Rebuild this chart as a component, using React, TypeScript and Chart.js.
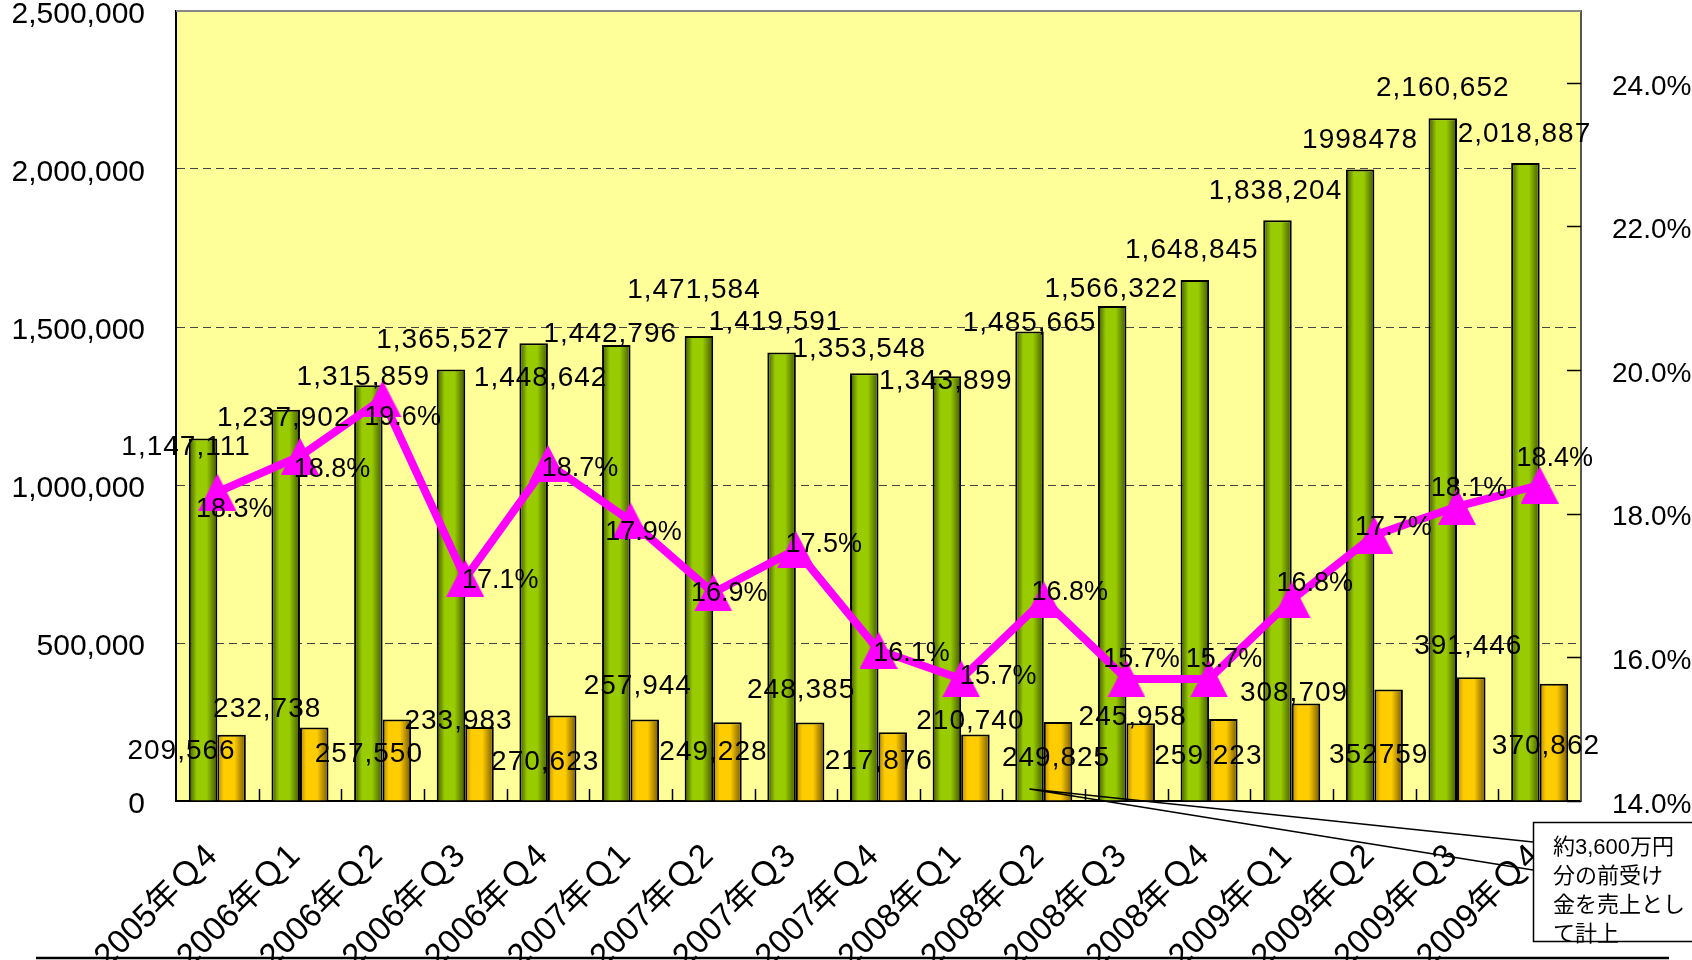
import React, { useEffect, useRef } from 'react';
import { Chart, registerables } from 'chart.js';

Chart.register(...registerables);

const FONT = '"Liberation Sans", "Noto Sans CJK JP", Arial, sans-serif';

// ---- data ----
const categories = [
  '2005年Ｑ4', '2006年Ｑ1', '2006年Ｑ2', '2006年Ｑ3', '2006年Ｑ4',
  '2007年Ｑ1', '2007年Ｑ2', '2007年Ｑ3', '2007年Ｑ4',
  '2008年Ｑ1', '2008年Ｑ2', '2008年Ｑ3', '2008年Ｑ4',
  '2009年Ｑ1', '2009年Ｑ2', '2009年Ｑ3', '2009年Ｑ4',
];
const sales = [
  1147111, 1237902, 1315859, 1365527, 1448642, 1442796, 1471584, 1419591, 1353548,
  1343899, 1485665, 1566322, 1648845, 1838204, 1998478, 2160652, 2018887,
];
const profit = [
  209566, 232738, 257550, 233983, 270623, 257944, 249228, 248385, 217876,
  210740, 249825, 245958, 259223, 308709, 352759, 391446, 370862,
];
const margin = [
  18.3, 18.8, 19.6, 17.1, 18.7, 17.9, 16.9, 17.5, 16.1,
  15.7, 16.8, 15.7, 15.7, 16.8, 17.7, 18.1, 18.4,
];
const leftTicks = [0, 500000, 1000000, 1500000, 2000000, 2500000];
const rightTicks = [14, 16, 18, 20, 22, 24];
const noteLines = ['約3,600万円', '分の前受け', '金を売上とし', 'て計上'];
// indices whose labels were printed without thousands separators in the original
const salesPlain = [14];
const profitPlain = [14];

// ---- label nudges (layout only, px offsets of label centre from its mark) ----
const salesNudge = [[-17, 9], [-2, 8], [-5, -8], [-8, -29], [7, 35], [-6, -11], [-5, -46], [-6, -30], [-5, -24], [-1, 5], [0, -8], [-1, -17], [-3, -30], [-2, -29], [0, -29], [0, -30], [-1, -29]];
const profitNudge = [[-50, 17], [-47, -18], [-28, 35], [-21, -6], [-17, 47], [-7, -33], [-14, 30], [-9, -32], [-14, 29], [-5, -13], [-2, 36], [-8, -6], [-15, 37], [-12, -10], [-10, 66], [-3, -31], [-8, 62]];
const marginNudge = [[17, 17], [32, 13], [20, 19], [35, 2], [32, 5], [13, 12], [16, 1], [28, -5], [33, 3], [37, -2], [26, -7], [15, -19], [15, -19], [23, -16], [19, -8], [12, -18], [15, -26]];

const CAT_PCT = 0.69;
const PLOT_TOP = 11;

const fmt = (v: number, plain: boolean) => (plain ? String(v) : v.toLocaleString('en-US'));

function barGradient(stops: [number, string][], dsIndex: number) {
  return (c: any) => {
    const chart = c.chart;
    const xs = chart.scales && chart.scales.x;
    if (!xs || c.dataIndex === undefined || !chart.chartArea) return stops[1][1];
    const center = xs.getPixelForValue(c.dataIndex);
    const w = xs.width / categories.length;
    const half = (w * CAT_PCT) / 2;
    const left = dsIndex === 0 ? center - half : center;
    const g = chart.ctx.createLinearGradient(left, 0, left + half, 0);
    stops.forEach(([o, col]) => g.addColorStop(o, col));
    return g;
  };
}

function makeTriangle(): HTMLCanvasElement {
  const c = document.createElement('canvas');
  c.width = 38;
  c.height = 37;
  const g = c.getContext('2d')!;
  g.fillStyle = '#FF00FF';
  g.beginPath();
  g.moveTo(19, 0);
  g.lineTo(38, 37);
  g.lineTo(0, 37);
  g.closePath();
  g.fill();
  return c;
}

const backgroundPlugin = {
  id: 'plotBg',
  beforeDraw(chart: any) {
    const { ctx, chartArea: a } = chart;
    ctx.save();
    ctx.fillStyle = '#FFFF99';
    ctx.fillRect(a.left, a.top, a.right - a.left, a.bottom - a.top);
    ctx.restore();
  },
  beforeDatasetsDraw(chart: any) {
    const { ctx, chartArea: a } = chart;
    ctx.save();
    ctx.strokeStyle = '#888';
    ctx.lineWidth = 2;
    ctx.beginPath();
    ctx.moveTo(a.left, a.top);
    ctx.lineTo(a.right, a.top);
    ctx.stroke();
    const xs = chart.scales.x;
    ctx.strokeStyle = '#000';
    ctx.lineWidth = 1.5;
    ctx.beginPath();
    for (let i = 0; i < categories.length - 1; i++) {
      const x = Math.round((xs.getPixelForValue(i) + xs.getPixelForValue(i + 1)) / 2) + 0.5;
      ctx.moveTo(x, a.bottom);
      ctx.lineTo(x, a.bottom - 12);
    }
    const ys = chart.scales.y1;
    rightTicks.forEach((v) => {
      const y = Math.round(ys.getPixelForValue(v)) + 0.5;
      ctx.moveTo(a.right - 14, y);
      ctx.lineTo(a.right, y);
    });
    ctx.stroke();
    ctx.restore();
  },
};

const labelPlugin = {
  id: 'valueLabels',
  afterDatasetsDraw(chart: any) {
    const ctx = chart.ctx;
    ctx.save();
    ctx.fillStyle = '#000';
    ctx.textAlign = 'center';
    ctx.textBaseline = 'middle';
    ctx.font = `28px ${FONT}`;
    (ctx as any).letterSpacing = '1px';
    const m0 = chart.getDatasetMeta(0);
    m0.data.forEach((el: any, i: number) => {
      const [dx, dy] = salesNudge[i];
      ctx.fillText(fmt(sales[i], salesPlain.includes(i)), el.x + dx, el.y + dy);
    });
    const m1 = chart.getDatasetMeta(1);
    m1.data.forEach((el: any, i: number) => {
      const [dx, dy] = profitNudge[i];
      ctx.fillText(fmt(profit[i], profitPlain.includes(i)), el.x + dx, el.y + dy);
    });
    (ctx as any).letterSpacing = '0px';
    ctx.font = `27px ${FONT}`;
    const m2 = chart.getDatasetMeta(2);
    m2.data.forEach((el: any, i: number) => {
      const [dx, dy] = marginNudge[i];
      ctx.fillText(margin[i].toFixed(1) + '%', el.x + dx, el.y + dy);
    });
    ctx.restore();
  },
};

const notePlugin = {
  id: 'note',
  afterDraw(chart: any) {
    const ctx = chart.ctx;
    const el = chart.getDatasetMeta(0).data[10];
    const sx = el.x;
    const sy = chart.chartArea.bottom - 12;
    ctx.save();
    ctx.strokeStyle = '#000';
    ctx.lineWidth = 1.5;
    ctx.beginPath();
    ctx.moveTo(sx, sy);
    ctx.lineTo(1533, 842);
    ctx.moveTo(sx, sy);
    ctx.lineTo(1533, 870);
    ctx.stroke();
    ctx.fillStyle = '#fff';
    ctx.fillRect(1533, 822, 200, 119);
    ctx.fillStyle = '#000';
    ctx.font = `22px ${FONT}`;
    ctx.textAlign = 'left';
    ctx.textBaseline = 'middle';
    noteLines.forEach((t, i) => ctx.fillText(t, 1553, 848 + i * 29));
    ctx.strokeRect(1533.5, 822.5, 200, 119);
    ctx.lineWidth = 2.5;
    ctx.beginPath();
    ctx.moveTo(36, 958);
    ctx.lineTo(1669, 958);
    ctx.stroke();
    ctx.restore();
  },
};

export default function App() {
  const ref = useRef<HTMLCanvasElement>(null);
  useEffect(() => {
    if (!ref.current) return;
    Chart.defaults.font.family = FONT;
    const tri = makeTriangle();
    const chart = new Chart(ref.current, {
      type: 'bar',
      data: {
        labels: categories,
        datasets: [
          {
            type: 'bar',
            label: '売上',
            data: sales,
            yAxisID: 'y',
            order: 1,
            backgroundColor: barGradient([[0, '#3f5500'], [0.28, '#99CC00'], [0.62, '#99CC00'], [1, '#3f5500']], 0),
            borderColor: '#000',
            borderWidth: 2,
            borderSkipped: 'bottom',
            categoryPercentage: CAT_PCT,
            barPercentage: 1,
          },
          {
            type: 'bar',
            label: '利益',
            data: profit,
            yAxisID: 'y',
            order: 2,
            backgroundColor: barGradient([[0, '#b38600'], [0.22, '#FFCC00'], [0.6, '#FFCC00'], [1, '#735500']], 1),
            borderColor: '#000',
            borderWidth: 2,
            borderSkipped: 'bottom',
            categoryPercentage: CAT_PCT,
            barPercentage: 1,
          },
          {
            type: 'line',
            label: '利益率',
            data: margin,
            yAxisID: 'y1',
            order: 0,
            borderColor: '#FF00FF',
            borderWidth: 8,
            tension: 0,
            pointStyle: tri as any,
            pointRadius: 19,
            pointHoverRadius: 19,
            pointBackgroundColor: '#FF00FF',
            pointBorderColor: '#FF00FF',
          } as any,
        ],
      },
      options: {
        responsive: true,
        maintainAspectRatio: false,
        animation: false,
        layout: { autoPadding: false, padding: { top: PLOT_TOP, left: 0, right: 0, bottom: 0 } },
        plugins: {
          legend: { display: false },
          tooltip: { enabled: false },
          title: { display: false },
        },
        scales: {
          x: {
            type: 'category',
            offset: true,
            grid: { display: false, drawTicks: false },
            border: { display: true, color: '#000', width: 2 },
            ticks: {
              autoSkip: false,
              minRotation: 45,
              maxRotation: 45,
              padding: 36,
              labelOffset: -5,
              color: '#000',
              font: { family: FONT, size: 33 },
            },
            afterFit: (s: any) => {
              s.height = 159;
              s.paddingLeft = 0;
              s.paddingRight = 0;
              s.paddingTop = 0;
              s.paddingBottom = 0;
            },
          },
          y: {
            type: 'linear',
            position: 'left',
            min: 0,
            max: 2500000,
            afterBuildTicks: (s: any) => {
              s.ticks = leftTicks.map((v) => ({ value: v }));
            },
            grid: {
              drawTicks: false,
              lineWidth: 1,
              color: (c: any) =>
                c.tick && (c.tick.value === 0 || c.tick.value === 2500000) ? 'rgba(0,0,0,0)' : '#444',
            },
            border: { display: true, color: '#000', width: 2, dash: [8, 5] },
            ticks: {
              padding: 31,
              labelOffset: 4,
              color: '#000',
              font: { family: FONT, size: 30 },
              callback: (v: any) => Number(v).toLocaleString('en-US'),
            },
            afterFit: (s: any) => {
              s.width = 176;
              s.paddingTop = 0;
              s.paddingBottom = 0;
            },
          },
          y1: {
            type: 'linear',
            position: 'right',
            min: 14,
            max: 25,
            afterBuildTicks: (s: any) => {
              s.ticks = rightTicks.map((v) => ({ value: v }));
            },
            grid: { drawOnChartArea: false, drawTicks: false },
            border: { display: true, color: '#555', width: 2 },
            ticks: {
              padding: 31,
              labelOffset: 4,
              color: '#000',
              font: { family: FONT, size: 28 },
              callback: (v: any) => Number(v).toFixed(1) + '%',
            },
            afterFit: (s: any) => {
              s.width = 111;
              s.paddingTop = 0;
              s.paddingBottom = 0;
            },
          },
        },
      },
      plugins: [backgroundPlugin, labelPlugin, notePlugin],
    });
    return () => chart.destroy();
  }, []);

  return (
    <div style={{ position: 'absolute', left: 0, top: 0, width: 1692, height: 960, background: '#fff' }}>
      <canvas ref={ref} style={{ display: 'block' }} />
    </div>
  );
}
